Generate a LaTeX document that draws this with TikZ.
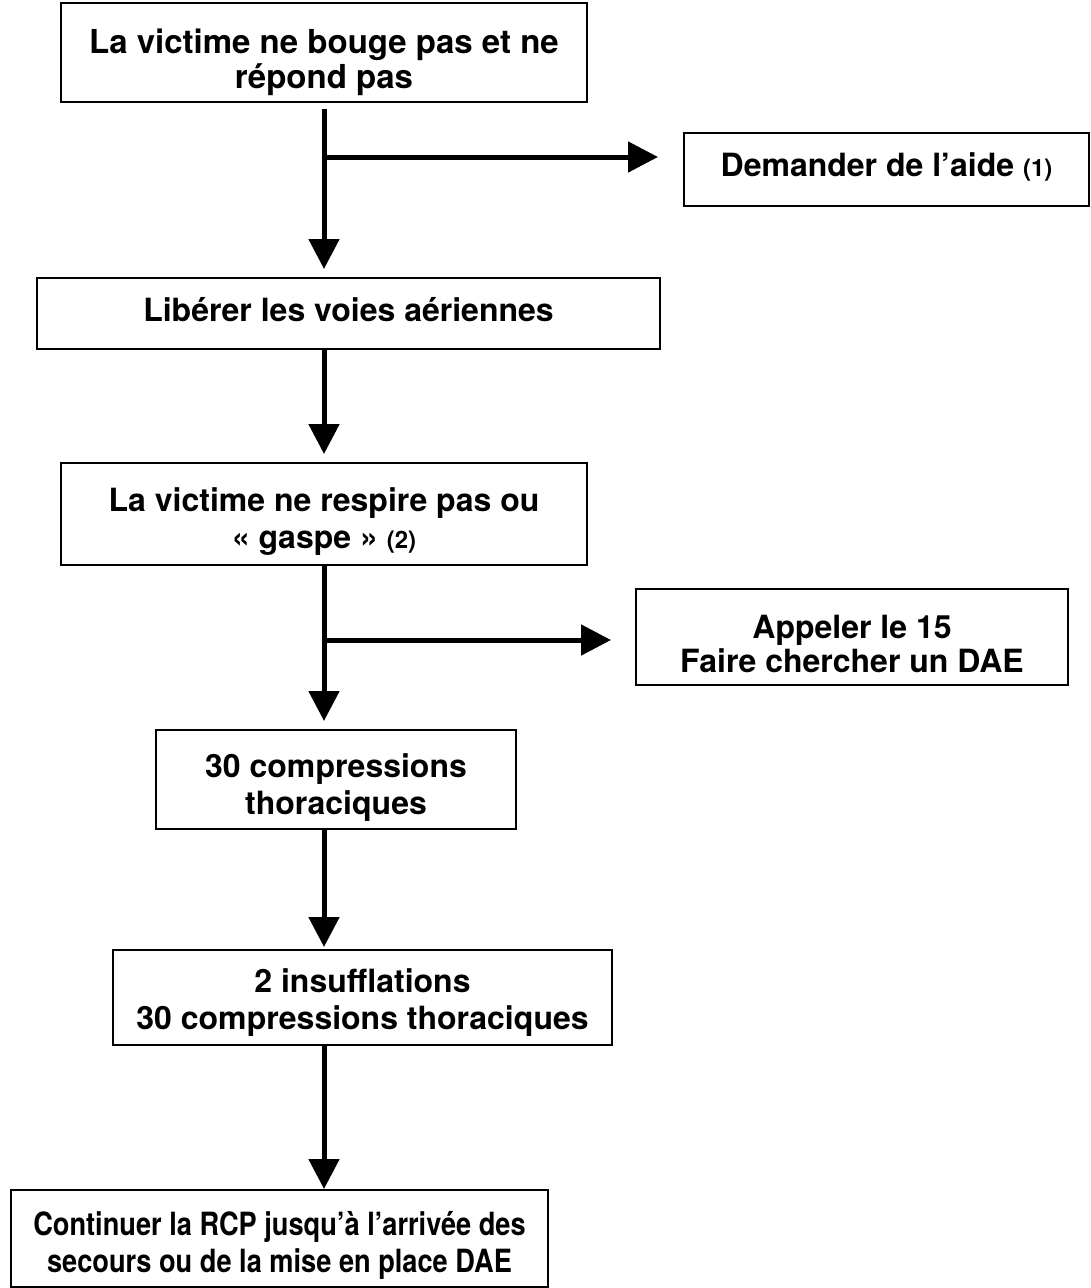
\documentclass[tikz,border=0pt]{standalone}
\usepackage{fontspec}
\usepackage{graphicx}
\setmainfont{TeX Gyre Heros}
\usetikzlibrary{arrows.meta}
\tikzset{
  stepbox/.style={draw=black, line width=2pt, fill=white, inner sep=0pt},
  steptext/.style={inner sep=0pt, align=center, font=\bfseries\fontsize{32}{37}\selectfont},
  flow/.style={line width=5pt, -{Triangle[length=30pt,width=30pt]}},
}
\newcommand{\smallnote}[1]{{\fontsize{24}{26}\selectfont #1}}
\newcommand{\narrowline}[1]{\scalebox{0.85}[1]{#1}}
\begin{document}
\begin{tikzpicture}[x=1pt,y=-1pt]
\useasboundingbox (0,0) rectangle (1091,1288);
\fill[white] (0,0) rectangle (1091,1288);

\node[stepbox, minimum width=526pt, minimum height=99pt] (b1) at (324,52.5) {};
\node[steptext, font=\bfseries\fontsize{33}{35}\selectfont] (t1) at ([yshift=-10pt]b1.center)
  {La victime ne bouge pas et ne\\répond pas};
\node[stepbox, minimum width=405pt, minimum height=73pt] (b2) at (886.5,169.5) {};
\node[steptext] (t2) at ([yshift=3pt]b2.center) {Demander de l’aide \smallnote{(1)}};
\node[stepbox, minimum width=623pt, minimum height=71pt] (b3) at (348.5,313.5) {};
\node[steptext] (t3) at ([yshift=4pt]b3.center) {Libérer les voies aériennes};
\node[stepbox, minimum width=526pt, minimum height=102pt] (b4) at (324,514) {};
\node[steptext] (t4) at ([yshift=-8pt]b4.center)
  {La victime ne respire pas ou\\« gaspe » \smallnote{(2)}};
\node[stepbox, minimum width=432pt, minimum height=96pt] (b5) at (852,637) {};
\node[steptext, font=\bfseries\fontsize{32}{34}\selectfont] (t5) at ([yshift=-7pt]b5.center)
  {Appeler le 15\\Faire chercher un DAE};
\node[stepbox, minimum width=360pt, minimum height=99pt] (b6) at (336,779.5) {};
\node[steptext] (t6) at ([yshift=-8pt]b6.center) {30 compressions\\thoraciques};
\node[stepbox, minimum width=499pt, minimum height=95pt] (b7) at (362.5,997.5) {};
\node[steptext] (t7) at ([yshift=-5pt]b7.center) {2 insufflations\\30 compressions thoraciques};
\node[stepbox, minimum width=537pt, minimum height=97pt] (b8) at (279.5,1238.5) {};
\node[steptext] (t8) at ([yshift=-7pt]b8.center)
  {\narrowline{Continuer la RCP jusqu’à l’arrivée des}\\\narrowline{secours ou de la mise en place DAE}};

\coordinate (j1) at (324,157);
\coordinate (j2) at (324,640);

\draw[flow] ([yshift=-6pt]b1.south -| j1) -- ([yshift=8pt]b3.north -| j1);
\draw[flow] (j1) -- ([xshift=-25pt]b2.west |- j1);
\draw[flow] (b3.south -| j1) -- ([yshift=8pt]b4.north -| j1);
\draw[flow] (b4.south -| j1) -- ([yshift=8pt]b6.north -| j1);
\draw[flow] (j2) -- ([xshift=-24pt]b5.west |- j2);
\draw[flow] (b6.south -| j1) -- ([yshift=2pt]b7.north -| j1);
\draw[flow] (b7.south -| j1) -- (b8.north -| j1);
\end{tikzpicture}
\end{document}
